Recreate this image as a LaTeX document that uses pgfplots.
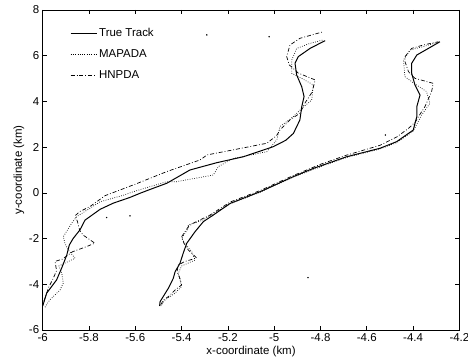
\documentclass[border=0pt]{standalone}
\usepackage{fontspec}
\setmainfont{Liberation Sans}
\usepackage{pgfplots}
\pgfplotsset{compat=1.18}
\usepackage{pgfplotstable}

\pgfplotstableread{
x y
-6.0 -4.95
-5.983 -4.39
-5.94 -3.81
-5.918 -3.29
-5.896 -2.72
-5.885 -2.28
-5.868 -1.99
-5.839 -1.62
-5.817 -1.19
-5.796 -1.04
-5.752 -0.72
-5.695 -0.45
-5.623 -0.2
-5.58 -0.02
-5.536 0.15
-5.464 0.42
-5.364 1.0
-5.248 1.32
-5.133 1.58
-5.004 2.02
-4.95 2.3
-4.917 2.6
-4.889 3.19
-4.881 3.77
-4.871 4.21
-4.881 4.64
-4.903 5.16
-4.91 5.67
-4.896 5.96
-4.845 6.32
-4.78 6.66
}\leftTrue

\pgfplotstableread{
x y
-5.995 -4.75
-5.975 -4.15
-5.955 -3.75
-5.94 -3.4
-5.947 -3.0
-5.915 -2.9
-5.87 -2.57
-5.81 -2.35
-5.775 -2.2
-5.825 -1.85
-5.84 -1.65
-5.85 -1.25
-5.86 -1.0
-5.84 -0.82
-5.796 -0.6
-5.73 -0.12
-5.6 0.38
-5.464 0.93
-5.32 1.44
-5.29 1.66
-5.177 1.88
-5.032 2.17
-4.99 2.5
-4.975 2.75
-4.932 3.19
-4.889 3.48
-4.867 3.93
-4.836 4.41
-4.823 4.94
-4.896 5.24
-4.935 5.6
-4.946 5.96
-4.932 6.47
-4.889 6.76
-4.788 7.05
}\leftHN

\pgfplotstableread{
x y
-5.99 -5.0
-5.97 -4.69
-5.925 -4.25
-5.911 -3.95
-5.918 -3.5
-5.93 -3.2
-5.86 -2.86
-5.89 -2.5
-5.904 -2.2
-5.911 -1.92
-5.875 -1.33
-5.853 -1.04
-5.80 -0.7
-5.752 -0.39
-5.65 -0.1
-5.609 0.05
-5.464 0.49
-5.421 0.49
-5.263 0.78
-5.241 1.15
-5.178 1.5
-5.032 1.8
-4.989 2.31
-4.975 2.9
-4.918 3.33
-4.88 3.7
-4.838 4.06
-4.831 4.72
-4.88 5.0
-4.924 5.23
-4.924 5.81
-4.903 6.32
-4.845 6.54
-4.788 6.69
}\leftMA

\pgfplotstableread{
x y
-5.495 -4.95
-5.493 -4.76
-5.457 -4.17
-5.436 -3.74
-5.428 -3.45
-5.407 -3.08
-5.393 -2.64
-5.378 -2.21
-5.342 -1.70
-5.306 -1.26
-5.263 -0.97
-5.19 -0.46
-5.061 0.05
-4.917 0.71
-4.831 1.07
-4.687 1.58
-4.543 1.95
-4.471 2.24
-4.399 2.75
-4.392 3.04
-4.384 3.33
-4.384 3.77
-4.37 4.28
-4.392 4.72
-4.406 5.23
-4.406 5.67
-4.384 6.03
-4.334 6.32
-4.284 6.61
}\rightTrue

\pgfplotstableread{
x y
-5.49 -4.9
-5.479 -4.69
-5.457 -4.54
-5.428 -4.25
-5.40 -4.03
-5.407 -3.74
-5.42 -3.45
-5.414 -3.15
-5.385 -3.0
-5.335 -2.85
-5.371 -2.5
-5.39 -2.2
-5.40 -1.92
-5.371 -1.48
-5.35 -1.33
-5.277 -0.97
-5.19 -0.40
-5.061 0.10
-4.917 0.76
-4.80 1.25
-4.687 1.65
-4.543 2.08
-4.47 2.45
-4.42 2.82
-4.39 3.1
-4.377 3.33
-4.349 3.77
-4.32 4.43
-4.313 4.79
-4.392 5.01
-4.42 5.3
-4.435 5.74
-4.435 5.96
-4.406 6.32
-4.356 6.47
-4.291 6.61
}\rightHN

\pgfplotstableread{
x y
-5.49 -4.95
-5.472 -4.69
-5.43 -4.4
-5.40 -4.1
-5.414 -3.52
-5.40 -3.2
-5.342 -2.94
-5.356 -2.57
-5.371 -2.4
-5.40 -1.99
-5.371 -1.55
-5.371 -1.4
-5.31 -1.2
-5.19 -0.48
-5.06 0.03
-4.917 0.69
-4.79 1.18
-4.687 1.55
-4.543 1.92
-4.47 2.2
-4.40 2.7
-4.363 3.41
-4.327 3.92
-4.342 4.43
-4.39 4.75
-4.435 5.08
-4.442 5.81
-4.413 6.25
-4.356 6.4
-4.29 6.6
}\rightMA

\pgfplotstableread{
x y
-5.291 6.91
-5.022 6.83
-5.724 -1.08
-5.623 -1.01
-4.854 -3.71
-4.52 2.53
}\clutter

\begin{document}
\begin{tikzpicture}
\begin{axis}[
  name=ax,
  scale only axis,
  width=416.7bp, height=320bp,
  xmin=-6, xmax=-4.2, ymin=-6, ymax=8,
  xtick={-6,-5.8,...,-4.2},
  xticklabels={-6,-5.8,-5.6,-5.4,-5.2,-5,-4.8,-4.6,-4.4,-4.2},
  ytick={-6,-4,...,8},
  tick align=inside,
  major tick length=4bp,
  axis line style={line width=0.9pt},
  every tick/.style={black, line width=0.7pt},
  /pgf/number format/assume math mode=true,
  tick label style={font=\fontsize{11.5}{13}\selectfont},
  label style={font=\fontsize{11.5}{13}\selectfont},
  xlabel={x-coordinate (km)},
  ylabel={y-coordinate (km)},
  xlabel style={yshift=2bp},
  ylabel style={yshift=-2bp},
  legend style={at={(axis cs:-5.895,7.38)}, anchor=north west, draw=none, fill=none,
    font=\fontsize{11.5}{13}\selectfont, row sep=7.5bp, cells={anchor=west}},
  legend image code/.code={\draw[#1] (0bp,0bp) -- (26bp,0bp);},
]
\addplot[black, line width=1pt] table {\leftTrue};
\addlegendentry{True Track}
\addplot[black, line width=0.7pt, dash pattern=on 0.7pt off 1.6pt] table {\leftMA};
\addlegendentry{MAPADA}
\addplot[black, line width=0.7pt, dash pattern=on 4pt off 2pt on 0.8pt off 2pt] table {\leftHN};
\addlegendentry{HNPDA}
\addplot[black, line width=1pt, forget plot] table {\rightTrue};
\addplot[black, line width=0.7pt, dash pattern=on 0.7pt off 1.6pt, forget plot] table {\rightMA};
\addplot[black, line width=0.7pt, dash pattern=on 4pt off 2pt on 0.8pt off 2pt, forget plot] table {\rightHN};
\addplot[black, only marks, mark=*, mark size=0.5pt, forget plot] table {\clutter};
\end{axis}
\pgfresetboundingbox
\path ([shift={(-42.7bp,-27bp)}]ax.south west) rectangle ([shift={(8.6bp,10bp)}]ax.north east);
\end{tikzpicture}
\end{document}
